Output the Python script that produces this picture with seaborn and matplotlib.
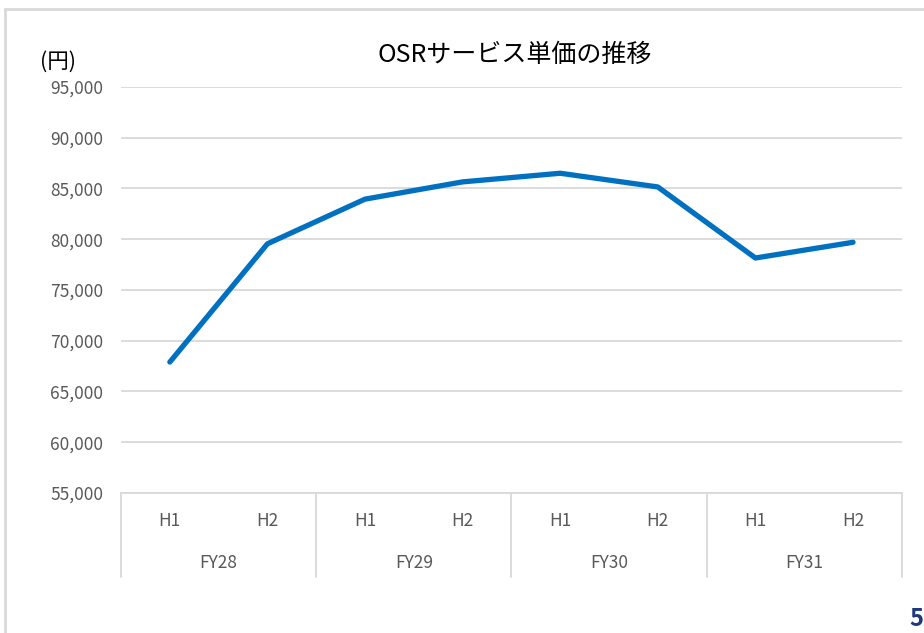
import numpy as np
import pandas as pd
import matplotlib
matplotlib.use("Agg")
import matplotlib.pyplot as plt
import seaborn as sns
from matplotlib.patches import Rectangle

fiscal_years = ["FY28", "FY29", "FY30", "FY31"]
halves = ["H1", "H2"]
unit_price = [67900, 79550, 83950, 85650, 86500, 85150, 78150, 79700]
y_ticks = [55000, 60000, 65000, 70000, 75000, 80000, 85000, 90000, 95000]

sns.set_theme(style="white")
plt.rcParams["font.family"] = ["Noto Sans CJK JP", "DejaVu Sans"]

periods = [f"{fy} {h}" for fy in fiscal_years for h in halves]
df = pd.DataFrame({"period": periods, "price": unit_price})

fig = plt.figure(figsize=(9.24, 6.33), dpi=100)
ax = fig.add_axes([0.131, 0.2212, 0.845, 0.6414])

# slide frame around the chart
fig.patches.append(Rectangle((0.005, -0.05), 1.2, 1.035, transform=fig.transFigure,
                             fill=False, edgecolor="#D9D9D9", linewidth=2))

sns.lineplot(data=df, x="period", y="price", ax=ax, color="#0070C0",
             linewidth=3.8, sort=False)

ax.set_ylim(55000, 95000)
ax.set_xlim(-0.5, len(periods) - 0.5)
ax.set_yticks(y_ticks)
ax.set_yticklabels([f"{v:,}" for v in y_ticks], color="#595959", fontsize=12.5)
ax.tick_params(axis="y", length=0, pad=13)
ax.yaxis.grid(True, color="#D9D9D9", linewidth=1.3)
ax.set_axisbelow(True)
ax.set_xticks([])
ax.set_xlabel("")
ax.set_ylabel("")
for s in ["top", "right", "left"]:
    ax.spines[s].set_visible(False)
ax.spines["bottom"].set_color("#D9D9D9")
ax.spines["bottom"].set_linewidth(1.3)

# two-level category axis
trans = ax.get_xaxis_transform()
for i, p in enumerate(periods):
    ax.text(i, -0.069, p.split()[1], transform=trans, ha="center", va="center",
            color="#595959", fontsize=12.5)
for j, fy in enumerate(fiscal_years):
    ax.text(2 * j + 0.5, -0.172, fy, transform=trans, ha="center", va="center",
            color="#595959", fontsize=12.5)
for b in np.arange(-0.5, len(periods), 2):
    ax.plot([b, b], [0, -0.207], transform=trans, color="#D9D9D9",
            linewidth=1.3, clip_on=False)

fig.text(0.557, 0.913, "OSRサービス単価の推移", ha="center", va="center",
         fontsize=18, color="#000000")
fig.text(0.043, 0.902, "(円)", ha="left", va="center", fontsize=15.5, color="#000000")
fig.text(0.999, 0.022, "5", ha="right", va="center", fontsize=17, fontweight="bold",
         color="#1F3A7A")

fig.savefig("out.png", dpi=100)
